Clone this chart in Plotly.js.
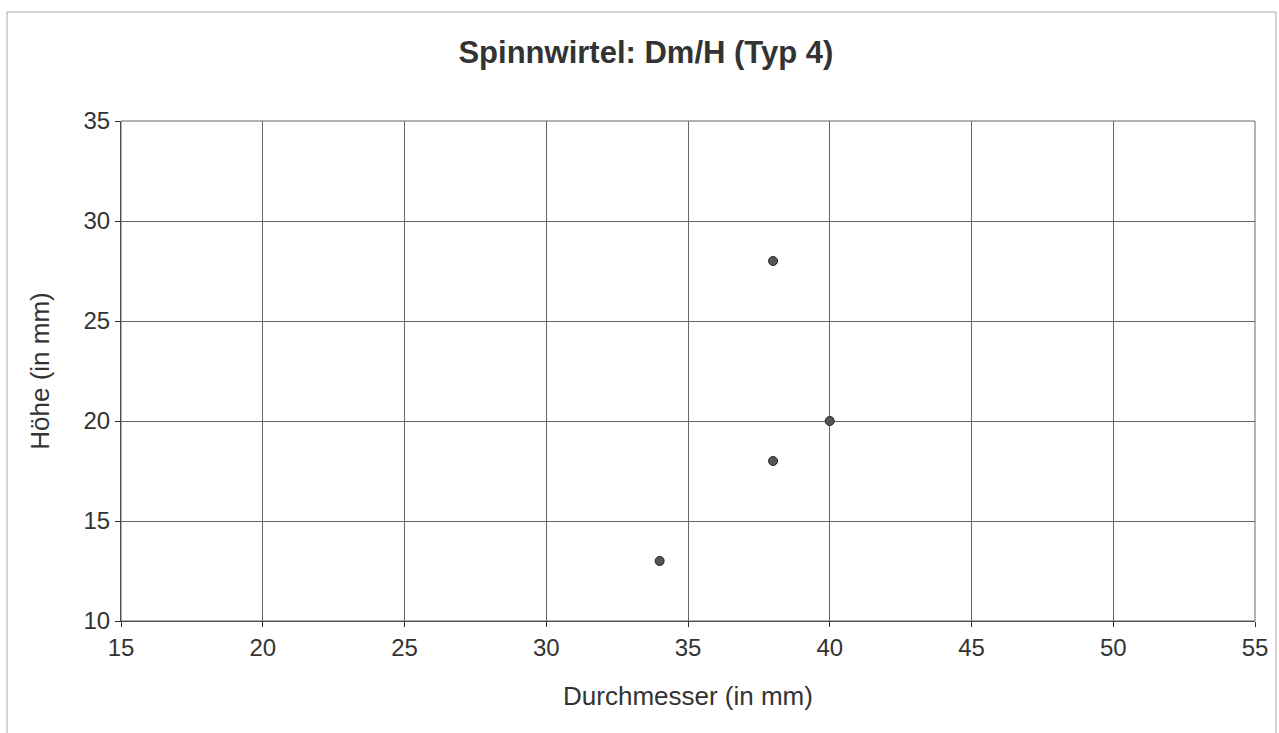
<!DOCTYPE html>
<html><head><meta charset="utf-8">
<script src="https://cdn.plot.ly/plotly-3.0.1.min.js"></script>
<style>html,body{margin:0;padding:0;background:#fff}#chart{width:1279px;height:733px}</style>
</head><body><div id="chart"></div>
<script>
const durchmesser = [34, 38, 38, 40];
const hoehe = [13, 28, 18, 20];
const xTicks = [15, 20, 25, 30, 35, 40, 45, 50, 55];
const yTicks = [10, 15, 20, 25, 30, 35];

const trace = {
  x: durchmesser, y: hoehe, type: 'scatter', mode: 'markers',
  marker: {size: 9, color: '#555', line: {color: '#222', width: 1}},
  hoverinfo: 'x+y'
};
const font = {family: 'Arial, Liberation Sans, sans-serif', color: '#333'};
const layout = {
  width: 1279, height: 733,
  margin: {l: 121, r: 24, t: 121, b: 112},
  paper_bgcolor: '#fff', plot_bgcolor: '#fff',
  showlegend: false,
  font: font,
  title: {text: 'Spinnwirtel: Dm/H (Typ 4)', x: 0.505, xanchor: 'center', y: 0.929, yanchor: 'middle',
          font: {family: 'Arial, Liberation Sans, sans-serif', size: 31, color: '#333', weight: 'bold'}},
  xaxis: {range: [15, 55], tickvals: xTicks, ticktext: xTicks.map(String),
          showgrid: true, gridcolor: '#666', gridwidth: 1, zeroline: false,
          showline: true, linecolor: '#333', linewidth: 1, mirror: false,
          ticks: 'outside', ticklen: 5, tickcolor: '#333',
          tickfont: {size: 24, color: '#333'},
          title: {text: 'Durchmesser (in mm)', font: {size: 26, color: '#333'}, standoff: 27}},
  yaxis: {range: [10, 35], tickvals: yTicks, ticktext: yTicks.map(String),
          showgrid: true, gridcolor: '#666', gridwidth: 1, zeroline: false,
          showline: true, linecolor: '#333', linewidth: 1,
          ticks: 'outside', ticklen: 5, tickcolor: '#333',
          tickfont: {size: 24, color: '#333'},
          title: {text: 'Höhe (in mm)', font: {size: 26, color: '#333'}, standoff: 26}},
  shapes: [
    {type: 'rect', xref: 'paper', yref: 'paper', x0: -0.1005, x1: 1.0185, y0: -0.3, y1: 1.218,
     line: {color: '#aaa', width: 1}, fillcolor: 'rgba(0,0,0,0)', layer: 'below'},
    {type: 'rect', xref: 'paper', yref: 'paper', x0: 0, x1: 1, y0: 0, y1: 1,
     line: {color: '#666', width: 1}, fillcolor: 'rgba(0,0,0,0)'}
  ]
};
Plotly.newPlot('chart', [trace], layout, {displayModeBar: false, staticPlot: true});
</script></body></html>
